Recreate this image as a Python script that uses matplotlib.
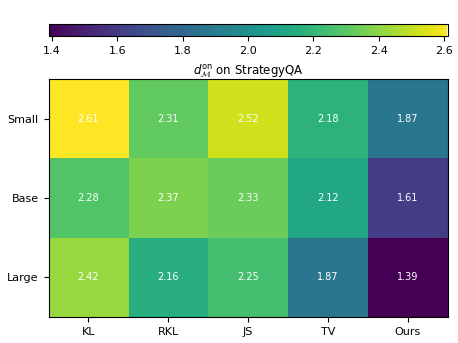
import numpy as np
import matplotlib.pyplot as plt

methods = ['KL', 'RKL', 'JS', 'TV', 'Ours']
sizes = ['Small', 'Base', 'Large']
small = [2.61, 2.31, 2.52, 2.18, 1.87]
base = [2.28, 2.37, 2.33, 2.12, 1.61]
large = [2.42, 2.16, 2.25, 1.87, 1.39]

data = np.array([small, base, large])

fig = plt.figure(figsize=(4.58, 3.43), dpi=100)
ax = fig.add_axes([48.5/458, 1-317/343, 399/458, 238/343])
im = ax.imshow(data, cmap='viridis', aspect='auto',
               vmin=data.min(), vmax=data.max())

for i in range(len(sizes)):
    for j in range(len(methods)):
        ax.text(j, i, '%.2f' % data[i, j], ha='center', va='center',
                color='white', fontsize=7)

ax.set_xticks(range(len(methods)))
ax.set_xticklabels(methods)
ax.set_yticks(range(len(sizes)))
ax.set_yticklabels(sizes)
ax.tick_params(labelsize=8)
ax.set_title(r'$d^{\rm on}_{\mathcal{M}}$ on StrategyQA', fontsize=8.5, pad=4)

cax = fig.add_axes([48.5/458, 1-36/343, 399/458, 12/343])
cb = fig.colorbar(im, cax=cax, orientation='horizontal')
cb.set_ticks([1.4, 1.6, 1.8, 2.0, 2.2, 2.4, 2.6])
cb.ax.tick_params(labelsize=8)

fig.savefig('out.png', dpi=100)
